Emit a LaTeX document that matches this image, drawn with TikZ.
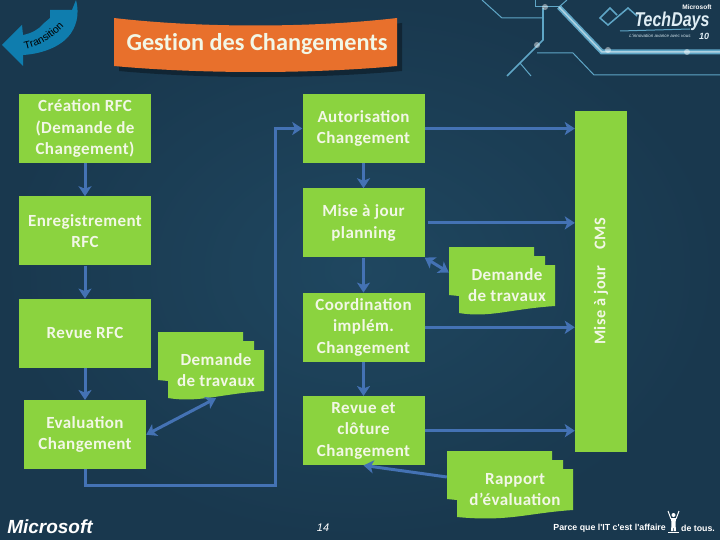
\documentclass[tikz,border=0pt]{standalone}
\usepackage{fontspec}
\setmainfont[LetterSpace=2.5]{Carlito}
\newfontfamily\titrefont[Ligatures=NoCommon]{Carlito}
\newfontfamily\logofont{Liberation Sans}
\usepackage{tikz}
\usetikzlibrary{arrows.meta,positioning,calc,decorations.text}
\definecolor{fond}{HTML}{1F4760}
\definecolor{fondbord}{HTML}{19384E}
\definecolor{vert}{HTML}{8BD33F}
\definecolor{orange}{HTML}{E8702C}
\definecolor{bleu}{HTML}{4472B4}
\definecolor{trans}{HTML}{0F7DAE}
\definecolor{circuit}{HTML}{5FA6C6}
\definecolor{blanc}{HTML}{F2F7E6}
\newcommand{\docnode}[5]{
  \fill[vert,shift={(#2,#3)}] (0,0) -- (#4-21,0) -- (#4-21,9) -- (#4-10,9) -- (#4-10,18) -- (#4,18) -- (#4,59)
    .. controls (#4-45,62) and (#4-65,71) .. (10,66) -- (10,49) -- (0,48) -- cycle;
  \node[doc,minimum width=#4pt-10pt] (#1) at (#2+5+#4/2,#3+38.5) {#5};
}
\begin{document}
\begin{tikzpicture}[
  x=1pt,y=-1pt,
  every node/.style={inner sep=0pt,align=center},
  box/.style={fill=vert,text=blanc,font=\fontsize{17}{21.5}\selectfont\bfseries,minimum height=69pt},
  large/.style={box,minimum width=132pt},
  etroit/.style={box,minimum width=122pt},
  doc/.style={text=blanc,font=\fontsize{17}{21}\selectfont\bfseries,minimum height=55pt},
  flux/.style={draw=bleu,line width=3pt,-{Stealth[length=10pt,width=13pt,inset=2.5pt]}},
  duo/.style={flux,{Stealth[length=10pt,width=13pt,inset=2.5pt]}-{Stealth[length=10pt,width=13pt,inset=2.5pt]}},
  trace/.style={draw=circuit,line width=1pt}
]
\useasboundingbox (0,0) rectangle (720,540);
\shade[inner color=fond,outer color=fondbord] (0,0) rectangle (720,540);

\draw[trace] (482,0) -- (502,18) -- (542,18);
\draw[trace] (535,0) -- (535,7) -- (559,7);
\draw[trace] (567,0) -- (559,7);
\draw[trace,line width=1.6pt] (543,8) -- (543,40) -- (507,76);
\draw[trace] (520,63) -- (531,76);
\draw[trace] (537,53) -- (573,53) -- (594,75) -- (720,75);
\draw[trace,line width=5pt] (559,7) -- (602,52) -- (720,52);
\draw[draw=white!50!circuit,line width=1.5pt] (559,7) -- (602,52) -- (720,52);
\foreach \gx/\gy in {545/7,537/45,608/50,687/52}
  \fill[white,opacity=.45] (\gx,\gy) circle (3);

\draw[circuit,line width=1.5pt] (617,15) -- (610,8) -- (600,18) -- (608,25) -- (628,8) -- (637,16);
\draw[circuit,line width=1pt] (620,31) -- (690,29);
\node[text=white!80!circuit,font=\logofont\itshape\bfseries\fontsize{20}{20}\selectfont] (techdays) at (672,21) {\scalebox{.8}[1]{TechDays}};
\node[text=white,font=\logofont\bfseries\fontsize{6.5}{7}\selectfont] (msfthaut) at (697,7) {Microsoft};
\node[text=white!80!circuit,font=\logofont\itshape\bfseries\fontsize{9}{9}\selectfont] (dix) at (704,36) {10};
\node[text=white!75!circuit,font=\logofont\itshape\fontsize{4.5}{5}\selectfont] (slogan) at (660,36) {L'innovation avance avec vous};

\fill[trans] (2,45) -- (22,25) -- (23,35) .. controls (32,33) and (38,30) .. (43,24) -- (50,18) -- (50,10) -- (72,10) -- (76,0)
  .. controls (80,15) and (76,28) .. (68,37) .. controls (58,48) and (40,54) .. (23,55) -- (23,66) -- cycle;
\path[decorate,decoration={text along path,text={|\logofont\fontsize{10.5}{11}\selectfont|Transition},text align=center}]
  (22,50) .. controls (36,48) and (52,40) .. (66,24);

\fill[fondbord!55!black,opacity=.75] (119,23) .. controls (205,33) and (315,33) .. (402,23) -- (402,71) .. controls (315,79) and (205,79) .. (119,71) -- cycle;
\fill[orange] (114,18) .. controls (200,28) and (311,28) .. (397,18) -- (397,66) .. controls (311,74) and (200,74) .. (114,66) -- cycle;
\node[text=blanc,font=\titrefont\fontsize{24.3}{26}\selectfont\bfseries] (titre) at (257,44.5) {Gestion des Changements};

\node[large] (creation) at (85,128.5) {Création RFC\\(Demande de\\Changement)};
\node[large,below=33pt of creation] (enreg) {Enregistrement\\RFC};
\node[large,below=33pt of enreg] (revuerfc) {Revue RFC};
\node[etroit,below=32pt of revuerfc] (evaluation) {Evaluation\\Changement};
\node[etroit] (autorisation) at (363.5,128.5) {Autorisation\\Changement};
\node[etroit,below=25pt of autorisation] (planning) {Mise à jour\\planning};
\node[etroit,below=35pt of planning] (coord) {Coordination\\implém.\\Changement};
\node[etroit,below=34pt of coord] (cloture) {Revue et\\clôture\\Changement};
\node[box,minimum width=52pt,minimum height=341pt,font=\fontsize{16.3}{20}\selectfont\bfseries] (cms) at (601,281.5) {\rotatebox{90}{Mise à jour\quad CMS}};

\docnode{doca}{158}{332}{106}{Demande\\de travaux}
\docnode{docb}{449}{247}{106}{Demande\\de travaux}
\docnode{docc}{447}{451}{126}{Rapport\\d'évaluation}

\coordinate (retour) at (275,485);
\draw[flux] (creation) -- (enreg);
\draw[flux] (enreg) -- (revuerfc);
\draw[flux] (revuerfc) -- (evaluation);
\draw[flux] (evaluation.south) |- (retour) |- (autorisation.west);
\draw[flux] (autorisation) -- (planning);
\draw[flux] (planning) -- (coord);
\draw[flux] (coord) -- (cloture);
\draw[flux] (autorisation.east) -- (autorisation.east -| cms.west);
\draw[flux,shorten <=3pt] (planning.east) -- (planning.east -| cms.west);
\draw[flux] (coord.east) -- (coord.east -| cms.west);
\draw[flux] (cloture.east) -- (cloture.east -| cms.west);
\draw[duo] (planning.south east) -- ($(docb.west)+(-10,-13)$);
\draw[duo] (evaluation.east) -- (doca.south);
\draw[flux] ($(docc.west)+(-10,-12.5)$) -- (cloture.south);

\node[text=white,font=\logofont\itshape\bfseries\fontsize{19}{19}\selectfont] (microsoft) at (50,527) {Microsoft};
\node[text=white,font=\logofont\itshape\fontsize{11}{11}\selectfont] (page) at (323,528) {14};
\node[text=white,font=\logofont\bfseries\fontsize{8.8}{9}\selectfont,anchor=east] (parce) at (666,528) {Parce que l'IT c'est l'affaire};
\node[text=white,font=\logofont\bfseries\fontsize{8.8}{9}\selectfont,anchor=west] (tous) at (681,528) {de tous.};
\fill[white] (673.5,515) circle (2);
\fill[white] (671,518) -- (676,518) -- (675.5,524) -- (676,531) -- (674,531) -- (673.5,525) -- (673,531) -- (671,531) -- (671.5,524) -- cycle;
\draw[white,line width=1pt] (671,519) -- (668,511);
\draw[white,line width=1pt] (676,519) -- (679,511);
\draw[white,line width=.7pt] (668,532) -- (679,532);
\end{tikzpicture}
\end{document}
